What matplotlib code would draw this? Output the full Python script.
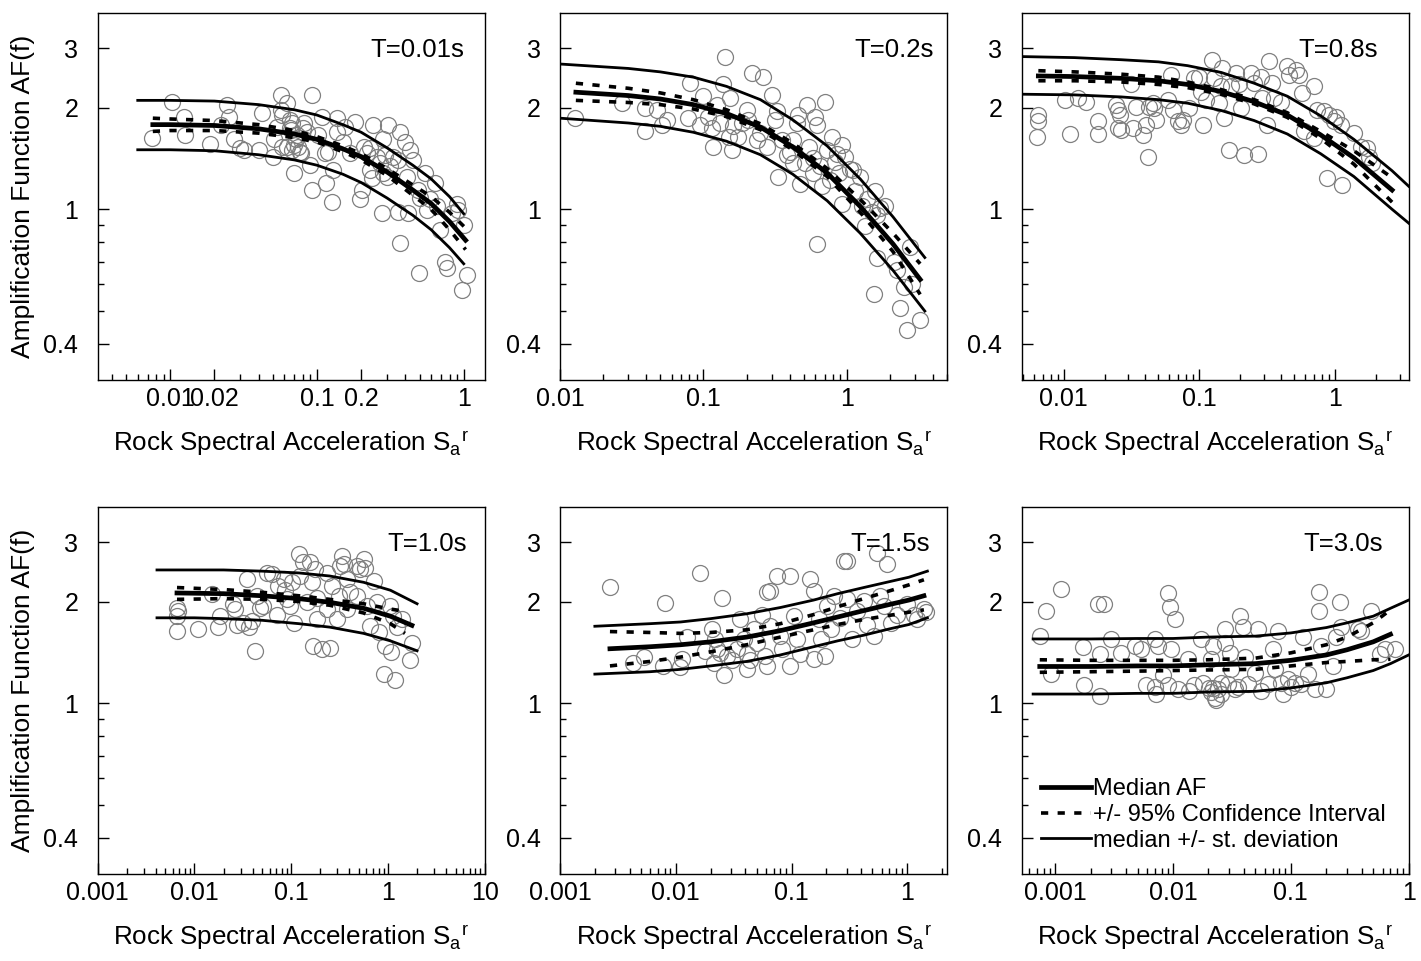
import numpy as np
import matplotlib
matplotlib.use('Agg')
import matplotlib.pyplot as plt
from matplotlib.ticker import FixedLocator, LogLocator, NullFormatter, FuncFormatter

plt.rcParams['font.family'] = ['Liberation Sans', 'DejaVu Sans']
plt.rcParams['mathtext.default'] = 'regular'

# ---- T = 0.01 s ----
pts_1 = [(0.0075, 1.63), (0.0103, 2.08), (0.0124, 1.88), (0.0126, 1.66), (0.0187, 1.56),
         (0.0222, 1.78), (0.0245, 2.03), (0.0252, 1.88), (0.0273, 1.61), (0.030, 1.52),
         (0.032, 1.50), (0.040, 1.50), (0.042, 1.93), (0.050, 1.43), (0.051, 1.61),
         (0.053, 1.75), (0.057, 2.18), (0.057, 1.97), (0.062, 2.06), (0.058, 1.53),
         (0.065, 1.74), (0.068, 1.80), (0.070, 1.55), (0.073, 1.66), (0.076, 1.48),
         (0.080, 1.74), (0.070, 1.28), (0.092, 2.18), (0.089, 1.35), (0.092, 1.14),
         (0.101, 1.66), (0.108, 1.88), (0.113, 1.47), (0.118, 1.48), (0.116, 1.20),
         (0.126, 1.05), (0.136, 1.86), (0.136, 1.69), (0.128, 1.31), (0.155, 1.75),
         (0.150, 1.58), (0.168, 1.47), (0.181, 1.81), (0.196, 1.07), (0.202, 1.14),
         (0.219, 1.47), (0.230, 1.52), (0.241, 1.78), (0.230, 1.31), (0.237, 1.24),
         (0.269, 1.37), (0.277, 0.975), (0.282, 1.61), (0.305, 1.78), (0.291, 1.45),
         (0.300, 1.25), (0.330, 1.43), (0.357, 0.98), (0.368, 1.69), (0.368, 0.795),
         (0.398, 1.58), (0.431, 1.50), (0.411, 1.25), (0.418, 0.975), (0.452, 1.40),
         (0.490, 1.14), (0.505, 1.08), (0.547, 1.28), (0.591, 1.07), (0.640, 1.20),
         (0.660, 1.02), (0.693, 0.87), (0.750, 0.70), (0.773, 0.67), (0.837, 0.975),
         (0.906, 1.04), (0.920, 0.995), (1.00, 0.90), (1.06, 0.64), (0.98, 0.577),
         (0.497, 0.648), (0.564, 0.995), (0.058, 1.90), (0.065, 1.84), (0.067, 1.72),
         (0.072, 1.61), (0.074, 1.53), (0.078, 1.47), (0.082, 1.80), (0.086, 1.69),
         (0.068, 1.50), (0.062, 1.53), (0.209, 1.53), (0.255, 1.43), (0.282, 1.28),
         (0.314, 1.34), (0.357, 1.40)]
sa_med_1 = [0.0076, 0.01, 0.02, 0.04, 0.07, 0.1, 0.15, 0.2, 0.3, 0.45, 0.6, 0.8, 1.03]
med_1 = [1.78, 1.78, 1.77, 1.73, 1.67, 1.61, 1.51, 1.43, 1.29, 1.14, 1.04, 0.92, 0.81]
ciu_1 = [1.86, 1.85, 1.83, 1.78, 1.71, 1.64, 1.54, 1.46, 1.32, 1.18, 1.09, 0.98, 0.88]
cil_1 = [1.70, 1.71, 1.71, 1.68, 1.63, 1.58, 1.48, 1.40, 1.26, 1.10, 1.00, 0.87, 0.76]
sa_std_1 = [0.006, 0.01, 0.02, 0.04, 0.07, 0.1, 0.15, 0.2, 0.3, 0.45, 0.6, 0.8, 1.0]
sdu_1 = [2.10, 2.10, 2.09, 2.04, 1.97, 1.90, 1.78, 1.69, 1.52, 1.35, 1.23, 1.09, 0.97]
sdl_1 = [1.50, 1.50, 1.49, 1.45, 1.40, 1.35, 1.27, 1.20, 1.08, 0.96, 0.87, 0.77, 0.69]

# ---- T = 0.2 s ----
pts_2 = [(0.0127, 1.86), (0.0269, 2.06), (0.0392, 1.99), (0.0392, 1.70), (0.0473, 1.97),
         (0.0512, 1.78), (0.0555, 1.84), (0.0808, 2.36), (0.0786, 1.86), (0.100, 2.16),
         (0.108, 1.88), (0.114, 1.74), (0.117, 1.53), (0.124, 2.04), (0.138, 2.34),
         (0.142, 2.83), (0.150, 1.64), (0.154, 2.13), (0.158, 1.50), (0.162, 1.76),
         (0.185, 1.80), (0.201, 1.97), (0.218, 2.53), (0.249, 1.68), (0.262, 2.47),
         (0.277, 1.53), (0.300, 2.18), (0.316, 1.84), (0.325, 1.95), (0.334, 1.25),
         (0.352, 1.60), (0.382, 1.45), (0.403, 1.48), (0.425, 1.37), (0.448, 1.80),
         (0.46, 1.90), (0.473, 1.19), (0.526, 2.04), (0.541, 1.53), (0.586, 1.42),
         (0.602, 1.88), (0.618, 1.78), (0.618, 0.79), (0.652, 1.34), (0.67, 1.17),
         (0.707, 2.08), (0.726, 1.50), (0.766, 1.22), (0.787, 1.64), (0.83, 1.38),
         (0.852, 1.46), (0.876, 1.28), (0.924, 1.55), (0.924, 1.04), (0.974, 1.43),
         (1.056, 1.32), (1.114, 1.31), (1.14, 1.13), (1.24, 1.25), (1.27, 1.02),
         (1.34, 0.89), (1.38, 1.07), (1.50, 0.98), (1.58, 1.13), (1.62, 0.96),
         (1.71, 1.01), (1.85, 1.02), (1.54, 0.56), (1.62, 0.72), (2.12, 0.70),
         (2.24, 0.66), (2.36, 0.51), (2.49, 0.59), (2.63, 0.44), (2.77, 0.775),
         (2.84, 0.60), (3.25, 0.47), (0.095, 1.78), (0.131, 1.80), (0.174, 1.64),
         (0.206, 1.84), (0.236, 1.60), (0.425, 1.60), (0.51, 1.37), (0.586, 1.28)]
sa_med_2 = [0.0129, 0.03, 0.05, 0.085, 0.145, 0.25, 0.42, 0.73, 1.24, 2.1, 3.25]
med_2 = [2.22, 2.17, 2.12, 2.04, 1.92, 1.75, 1.53, 1.28, 1.02, 0.79, 0.62]
ciu_2 = [2.36, 2.28, 2.21, 2.11, 1.97, 1.79, 1.57, 1.32, 1.07, 0.85, 0.69]
cil_2 = [2.10, 2.07, 2.04, 1.98, 1.88, 1.72, 1.50, 1.25, 0.98, 0.75, 0.56]
sa_std_2 = [0.01, 0.03, 0.05, 0.085, 0.145, 0.25, 0.42, 0.73, 1.24, 2.1, 3.5]
sdu_2 = [2.69, 2.61, 2.55, 2.46, 2.31, 2.11, 1.84, 1.54, 1.23, 0.95, 0.72]
sdl_2 = [1.86, 1.80, 1.76, 1.69, 1.59, 1.45, 1.27, 1.06, 0.85, 0.66, 0.50]

# ---- T = 0.8 s ----
pts_3 = [(0.0065, 1.90), (0.0065, 1.82), (0.0063, 1.64), (0.0102, 2.11), (0.0111, 1.67),
         (0.0128, 2.13), (0.0147, 2.08), (0.0179, 1.82), (0.0179, 1.67), (0.0244, 2.04),
         (0.0251, 1.97), (0.0258, 1.90), (0.0251, 1.74), (0.0266, 1.72), (0.0315, 2.34),
         (0.0324, 1.74), (0.0342, 2.01), (0.0383, 1.66), (0.0406, 1.78), (0.0417, 1.43),
         (0.0429, 2.01), (0.0454, 2.06), (0.0467, 1.99), (0.048, 1.84), (0.0585, 2.11),
         (0.0619, 2.50), (0.0637, 1.97), (0.0693, 1.82), (0.0733, 1.78), (0.0754, 1.84),
         (0.0845, 1.99), (0.092, 2.44), (0.100, 2.47), (0.103, 2.23), (0.106, 1.78),
         (0.112, 2.11), (0.125, 2.77), (0.129, 2.44), (0.140, 2.06), (0.144, 2.31),
         (0.148, 2.62), (0.153, 1.86), (0.166, 1.50), (0.171, 2.31), (0.186, 2.53),
         (0.197, 2.34), (0.203, 1.99), (0.214, 1.45), (0.24, 2.53), (0.254, 2.36),
         (0.269, 1.46), (0.284, 2.47), (0.292, 2.13), (0.318, 1.78), (0.327, 2.74),
         (0.346, 2.36), (0.356, 2.13), (0.399, 2.08), (0.446, 2.65), (0.459, 2.50),
         (0.544, 2.50), (0.514, 2.59), (0.575, 2.21), (0.592, 1.70), (0.701, 2.31),
         (0.701, 1.62), (0.742, 1.97), (0.831, 1.95), (0.879, 1.24), (0.904, 1.90),
         (0.984, 1.82), (1.01, 1.88), (1.10, 1.78), (1.13, 1.18), (1.38, 1.68),
         (1.55, 1.53), (1.73, 1.52), (1.88, 1.37), (1.78, 1.43)]
sa_med_3 = [0.0065, 0.012, 0.0265, 0.05, 0.082, 0.145, 0.254, 0.446, 0.785, 1.38, 2.64]
med_3 = [2.48, 2.47, 2.44, 2.40, 2.34, 2.23, 2.08, 1.90, 1.66, 1.42, 1.14]
ciu_3 = [2.57, 2.55, 2.51, 2.46, 2.38, 2.26, 2.11, 1.93, 1.70, 1.49, 1.24]
cil_3 = [2.40, 2.40, 2.38, 2.34, 2.29, 2.19, 2.05, 1.87, 1.62, 1.36, 1.05]
sa_std_3 = [0.0049, 0.012, 0.0265, 0.05, 0.082, 0.145, 0.254, 0.446, 0.785, 1.38, 2.64, 3.5]
sdu_3 = [2.83, 2.81, 2.77, 2.73, 2.66, 2.54, 2.36, 2.16, 1.89, 1.61, 1.30, 1.17]
sdl_3 = [2.19, 2.18, 2.15, 2.11, 2.06, 1.96, 1.83, 1.67, 1.46, 1.25, 1.00, 0.91]

# ---- T = 1.0 s ----
pts_4 = [(0.0066, 1.92), (0.0066, 1.81), (0.0066, 1.64), (0.0068, 1.88), (0.011, 1.66),
         (0.0151, 2.10), (0.0177, 1.68), (0.0184, 1.81), (0.0253, 1.96), (0.0263, 1.90),
         (0.0274, 1.71), (0.0321, 1.73), (0.0348, 2.33), (0.0362, 1.68), (0.0392, 1.75),
         (0.0424, 1.43), (0.0441, 2.08), (0.0478, 1.92), (0.0517, 1.94), (0.056, 2.43),
         (0.063, 2.41), (0.0711, 1.83), (0.0739, 2.22), (0.0833, 2.33), (0.0867, 2.17),
         (0.0976, 1.94), (0.1016, 2.28), (0.106, 1.73), (0.119, 2.76), (0.124, 2.38),
         (0.134, 2.61), (0.157, 2.61), (0.164, 2.28), (0.17, 1.48), (0.177, 2.49),
         (0.184, 2.05), (0.208, 1.45), (0.234, 2.43), (0.253, 1.46), (0.263, 2.22),
         (0.297, 1.77), (0.309, 2.08), (0.321, 2.55), (0.348, 2.58), (0.334, 2.73),
         (0.377, 2.33), (0.408, 2.13), (0.478, 2.55), (0.517, 2.49), (0.56, 2.67),
         (0.583, 2.52), (0.607, 1.94), (0.657, 1.69), (0.711, 2.30), (0.77, 1.99),
         (0.80, 1.62), (0.94, 1.48), (1.07, 1.42), (1.14, 1.81), (1.24, 1.68),
         (0.90, 1.22), (1.19, 1.17), (1.68, 1.34), (1.77, 1.51), (1.06, 1.94),
         (1.40, 1.77), (0.0902, 2.03), (0.145, 1.99), (0.184, 1.77), (0.234, 1.90),
         (0.377, 1.90), (0.478, 2.08)]
sa_med_4 = [0.0066, 0.02, 0.05, 0.12, 0.25, 0.56, 1.06, 1.77]
med_4 = [2.12, 2.11, 2.08, 2.04, 1.99, 1.91, 1.81, 1.70]
sa_ci_4 = [0.0066, 0.02, 0.05, 0.12, 0.25, 0.56, 1.06, 1.5]
ciu_4 = [2.20, 2.17, 2.13, 2.08, 2.03, 1.97, 1.90, 1.87]
cil_4 = [2.03, 2.04, 2.03, 2.00, 1.95, 1.85, 1.72, 1.61]
sa_std_4 = [0.0041, 0.01, 0.02, 0.05, 0.12, 0.25, 0.56, 1.06, 2.0]
sdu_4 = [2.48, 2.48, 2.48, 2.46, 2.43, 2.38, 2.28, 2.16, 1.97]
sdl_4 = [1.79, 1.79, 1.78, 1.76, 1.72, 1.68, 1.61, 1.53, 1.43]

# ---- T = 1.5 s ----
pts_5 = [(0.0027, 2.21), (0.0043, 1.32), (0.0053, 1.37), (0.0081, 1.98), (0.0078, 1.29),
         (0.0109, 1.28), (0.0113, 1.35), (0.0125, 1.57), (0.0163, 2.43), (0.018, 1.43),
         (0.0205, 1.66), (0.0219, 1.55), (0.0226, 1.45), (0.0212, 1.32), (0.0242, 1.41),
         (0.025, 2.05), (0.0259, 1.21), (0.0277, 1.38), (0.0306, 1.34), (0.0337, 1.45),
         (0.0361, 1.77), (0.0385, 1.55), (0.0412, 1.40), (0.044, 1.34), (0.047, 1.66),
         (0.0503, 1.51), (0.0555, 1.83), (0.0593, 1.38), (0.0614, 2.13), (0.0656, 2.15),
         (0.0656, 1.69), (0.0748, 2.38), (0.080, 1.58), (0.0827, 1.45), (0.0976, 2.38),
         (0.104, 1.81), (0.112, 1.55), (0.119, 1.40), (0.145, 2.33), (0.155, 2.15),
         (0.172, 1.77), (0.178, 1.55), (0.196, 1.38), (0.203, 1.94), (0.217, 1.66),
         (0.231, 2.08), (0.264, 1.79), (0.283, 2.64), (0.302, 2.64), (0.302, 2.03),
         (0.334, 1.55), (0.368, 1.88), (0.421, 2.01), (0.45, 1.71), (0.548, 2.79),
         (0.586, 2.08), (0.627, 1.94), (0.67, 2.58), (0.716, 1.73), (0.818, 1.83),
         (0.998, 1.96), (1.14, 1.83), (1.22, 1.77), (1.39, 1.90), (1.44, 1.86),
         (0.513, 1.58), (0.155, 1.35), (0.0976, 1.29), (0.0614, 1.29), (0.0412, 1.26)]
sa_med_5 = [0.0027, 0.006, 0.011, 0.02, 0.041, 0.08, 0.155, 0.25, 0.42, 0.7, 1.03, 1.39]
med_5 = [1.45, 1.47, 1.49, 1.52, 1.57, 1.64, 1.73, 1.80, 1.88, 1.96, 2.02, 2.08]
ciu_5 = [1.63, 1.62, 1.61, 1.62, 1.65, 1.72, 1.83, 1.93, 2.04, 2.15, 2.24, 2.32]
cil_5 = [1.29, 1.33, 1.37, 1.42, 1.49, 1.57, 1.65, 1.71, 1.77, 1.82, 1.86, 1.89]
sa_std_5 = [0.002, 0.006, 0.011, 0.02, 0.041, 0.08, 0.155, 0.25, 0.42, 0.7, 1.03, 1.49]
sdu_5 = [1.69, 1.72, 1.74, 1.78, 1.84, 1.92, 2.02, 2.11, 2.20, 2.29, 2.36, 2.46]
sdl_5 = [1.22, 1.24, 1.26, 1.29, 1.33, 1.39, 1.47, 1.53, 1.59, 1.66, 1.71, 1.79]

# ---- T = 3.0 s ----
pts_6 = [(0.00074, 1.58), (0.00084, 1.88), (0.00092, 1.22), (0.00112, 2.18), (0.00172, 1.47),
         (0.00177, 1.13), (0.0023, 1.96), (0.00238, 1.40), (0.00238, 1.05), (0.00262, 1.96),
         (0.00299, 1.55), (0.00363, 1.41), (0.00472, 1.48), (0.00537, 1.45), (0.00697, 1.55),
         (0.00744, 1.48), (0.00905, 2.12), (0.00935, 1.93), (0.0103, 1.78), (0.00966, 1.45),
         (0.00592, 1.13), (0.0072, 1.065), (0.0082, 1.21), (0.011, 1.10), (0.0134, 1.35),
         (0.0138, 1.09), (0.0174, 1.55), (0.0179, 1.15), (0.0211, 1.35), (0.0218, 1.48),
         (0.0218, 1.11), (0.0225, 1.04), (0.024, 1.10), (0.0257, 1.15), (0.0274, 1.66),
         (0.0274, 1.51), (0.0302, 1.41), (0.0312, 1.26), (0.0333, 1.10), (0.0367, 1.81),
         (0.0392, 1.68), (0.0405, 1.37), (0.0432, 1.14), (0.0492, 1.23), (0.0525, 1.66),
         (0.0561, 1.09), (0.0705, 1.45), (0.0728, 1.26), (0.0777, 1.64), (0.0829, 1.15),
         (0.0856, 1.065), (0.0944, 1.18), (0.108, 1.15), (0.127, 1.57), (0.14, 1.22),
         (0.159, 1.10), (0.175, 1.88), (0.175, 2.13), (0.181, 1.48), (0.20, 1.10),
         (0.228, 1.29), (0.243, 1.57), (0.259, 1.99), (0.268, 1.68), (0.371, 1.66),
         (0.396, 1.64), (0.482, 1.88), (0.567, 1.40), (0.625, 1.45), (0.76, 1.45),
         (0.0211, 1.08), (0.0233, 1.02), (0.0257, 1.065), (0.0204, 1.11), (0.0292, 1.14),
         (0.0355, 1.12), (0.0639, 1.14), (0.101, 1.12), (0.122, 1.14), (0.0152, 1.13),
         (0.00697, 1.12), (0.00905, 1.13)]
sa_med_6 = [0.00074, 0.002, 0.005, 0.01, 0.02, 0.05, 0.1, 0.2, 0.3, 0.5, 0.7]
med_6 = [1.285, 1.285, 1.29, 1.29, 1.30, 1.31, 1.34, 1.39, 1.44, 1.52, 1.60]
ciu_6 = [1.345, 1.34, 1.34, 1.34, 1.345, 1.36, 1.41, 1.49, 1.57, 1.73, 1.89]
cil_6 = [1.235, 1.24, 1.245, 1.25, 1.255, 1.26, 1.29, 1.32, 1.33, 1.345, 1.35]
sa_std_6 = [0.00065, 0.002, 0.005, 0.01, 0.02, 0.05, 0.1, 0.2, 0.3, 0.5, 0.7, 1.0]
sdu_6 = [1.55, 1.55, 1.555, 1.555, 1.57, 1.58, 1.615, 1.675, 1.73, 1.81, 1.91, 2.02]
sdl_6 = [1.065, 1.065, 1.07, 1.07, 1.08, 1.085, 1.11, 1.15, 1.19, 1.25, 1.31, 1.39]

periods = ['T=0.01s', 'T=0.2s', 'T=0.8s', 'T=1.0s', 'T=1.5s', 'T=3.0s']
xlims = [(0.0032, 1.39), (0.01, 5.0), (0.0049, 3.5), (0.001, 10.0), (0.001, 2.2), (0.00052, 1.0)]
xmajor = [[0.01, 0.02, 0.1, 0.2, 1], [0.01, 0.1, 1], [0.01, 0.1, 1],
          [0.001, 0.01, 0.1, 1, 10], [0.001, 0.01, 0.1, 1], [0.001, 0.01, 0.1, 1]]
yticks = [0.4, 1, 2, 3]
yminor = [0.5, 0.6, 0.7, 0.8, 0.9]
title_x = [0.948, 0.965, 0.92, 0.954, 0.957, 0.933]

panels = [
    (pts_1, sa_med_1, med_1, sa_med_1, ciu_1, cil_1, sa_std_1, sdu_1, sdl_1),
    (pts_2, sa_med_2, med_2, sa_med_2, ciu_2, cil_2, sa_std_2, sdu_2, sdl_2),
    (pts_3, sa_med_3, med_3, sa_med_3, ciu_3, cil_3, sa_std_3, sdu_3, sdl_3),
    (pts_4, sa_med_4, med_4, sa_ci_4, ciu_4, cil_4, sa_std_4, sdu_4, sdl_4),
    (pts_5, sa_med_5, med_5, sa_med_5, ciu_5, cil_5, sa_std_5, sdu_5, sdl_5),
    (pts_6, sa_med_6, med_6, sa_med_6, ciu_6, cil_6, sa_std_6, sdu_6, sdl_6),
]

W, H = 1421.0, 961.0
lefts = [97.7, 560.0, 1021.7]
tops = [13.3, 507.3]
aw, ah = 387.0, 367.0

fig = plt.figure(figsize=(14.21, 9.61), dpi=100)
fmt = FuncFormatter(lambda v, pos: '%g' % v)

for i, (pts, sa_m, med, sa_c, ciu, cil, sa_s, sdu, sdl) in enumerate(panels):
    r, c = divmod(i, 3)
    ax = fig.add_axes([lefts[c] / W, 1 - (tops[r] + ah) / H, aw / W, ah / H])
    ax.set_xscale('log')
    ax.set_yscale('log')

    xs = [p[0] for p in pts]
    ys = [p[1] for p in pts]
    ax.plot(xs, ys, 'o', mfc='none', mec='#808080', ms=11.5, mew=0.9, zorder=2)

    ax.plot(sa_s, sdu, color='k', lw=2.0, zorder=3, label='median +/- st. deviation')
    ax.plot(sa_s, sdl, color='k', lw=2.0, zorder=3)
    ax.plot(sa_c, ciu, color='k', lw=2.6, dashes=(2.0, 2.6), zorder=3,
            label='+/- 95% Confidence Interval')
    ax.plot(sa_c, cil, color='k', lw=2.6, dashes=(2.0, 2.6), zorder=3)
    ax.plot(sa_m, med, color='k', lw=3.4, zorder=4, label='Median AF')

    ax.set_xlim(*xlims[i])
    ax.set_ylim(0.312, 3.8)
    ax.xaxis.set_major_locator(FixedLocator(xmajor[i]))
    ax.xaxis.set_major_formatter(fmt)
    ax.xaxis.set_minor_locator(LogLocator(base=10, subs=np.arange(2, 10), numticks=30))
    ax.xaxis.set_minor_formatter(NullFormatter())
    ax.yaxis.set_major_locator(FixedLocator(yticks))
    ax.yaxis.set_major_formatter(fmt)
    ax.yaxis.set_minor_locator(FixedLocator(yminor))
    ax.yaxis.set_minor_formatter(NullFormatter())

    ax.tick_params(which='both', direction='in', top=False, right=False, width=1.0)
    ax.tick_params(which='major', length=8)
    ax.tick_params(which='minor', length=4.5)
    ax.tick_params(axis='x', pad=4.5, labelsize=18)
    ax.tick_params(axis='y', pad=14, labelsize=18)
    for s in ax.spines.values():
        s.set_linewidth(1.0)

    ax.text(title_x[i], 0.881, periods[i], transform=ax.transAxes,
            ha='right', va='baseline', fontsize=18.5)

    ax.set_xlabel('Rock Spectral Acceleration S$_a{}^r$', fontsize=18.7)
    ax.xaxis.set_label_coords(0.5, -0.136)
    if c == 0:
        ax.set_ylabel('Amplification Function AF(f)', fontsize=19)
        ax.yaxis.set_label_coords(-0.162, 0.5)

    if i == 5:
        h, l = ax.get_legend_handles_labels()
        order = [2, 1, 0]
        ax.legend([h[k] for k in order], [l[k] for k in order],
                  loc='upper left', bbox_to_anchor=(0.05, 0.262), frameon=False,
                  fontsize=17, handlelength=2.1, handletextpad=0.1,
                  labelspacing=0.16, borderpad=0, borderaxespad=0)

fig.savefig('out.png', dpi=100)
